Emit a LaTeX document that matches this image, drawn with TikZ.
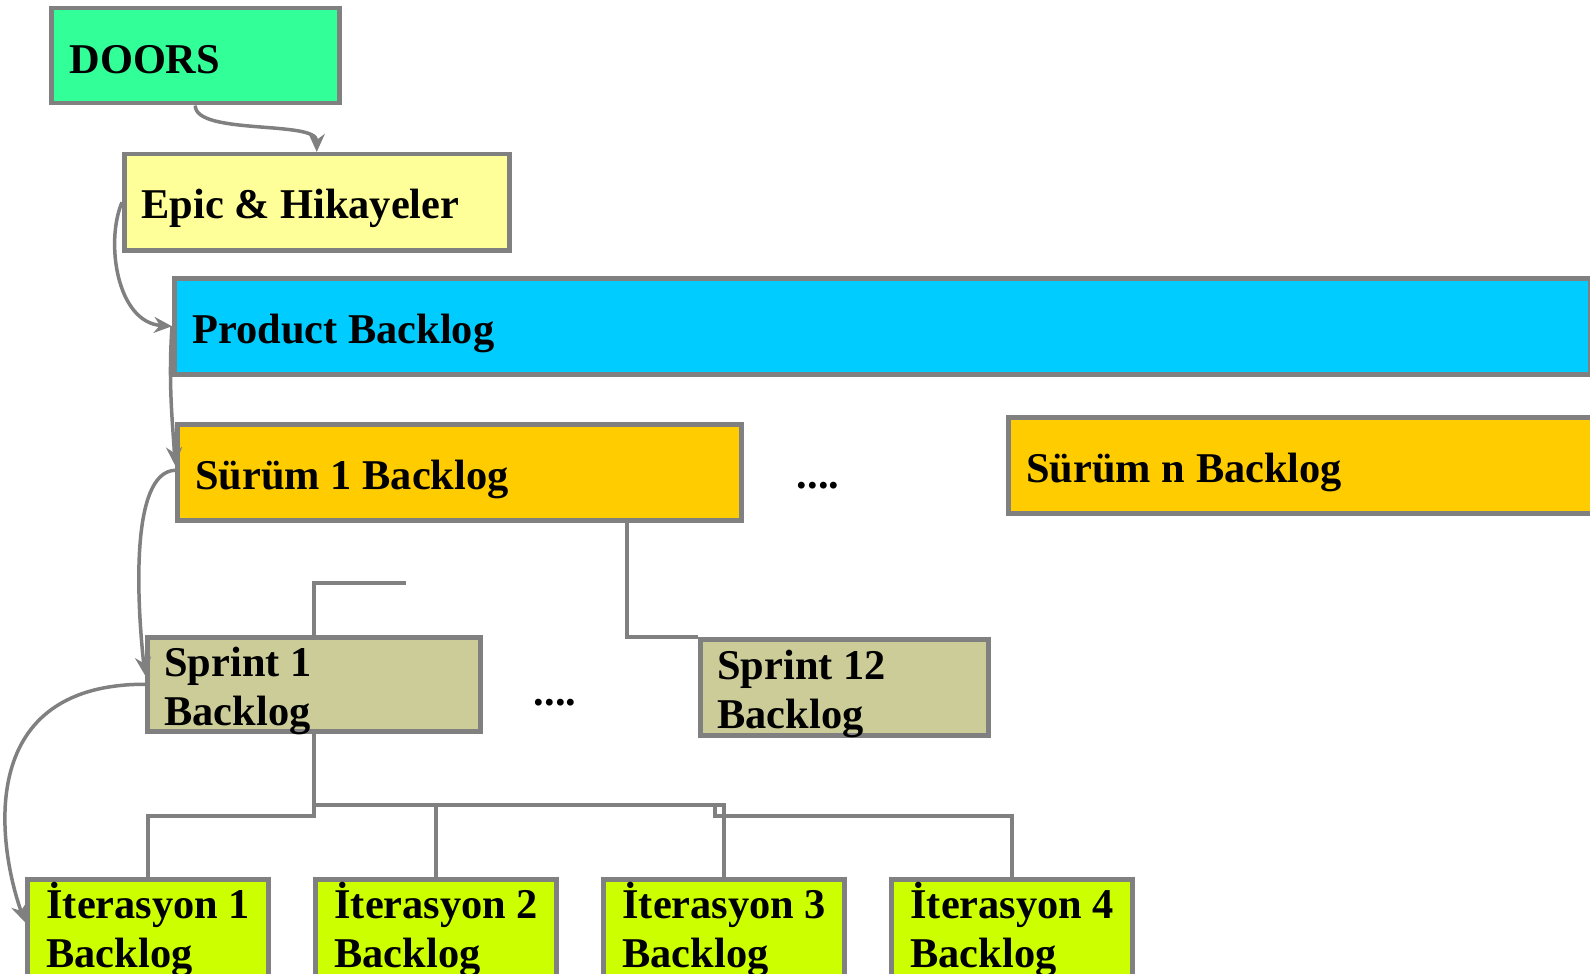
\documentclass[tikz,border=0pt]{standalone}
\usepackage{fontspec}
\setmainfont{Liberation Serif}
\usetikzlibrary{arrows.meta}

\definecolor{doorsgreen}{HTML}{33FF99}
\definecolor{epicyellow}{HTML}{FFFF99}
\definecolor{productblue}{HTML}{00CCFF}
\definecolor{surumorange}{HTML}{FFCC00}
\definecolor{sprintkhaki}{HTML}{CCCC99}
\definecolor{iterlime}{HTML}{CCFF00}
\definecolor{linegray}{HTML}{808080}

\tikzset{
  box/.style={draw=linegray, line width=2.25pt, rectangle, inner sep=0pt, anchor=north west},
  lbl/.style={inner sep=0pt, anchor=base west, align=left,
    font=\fontsize{21.2pt}{24.5pt}\selectfont\bfseries},
  flow/.style={draw=linegray, line width=1.75pt, -{Stealth[length=9pt,width=8pt]}},
  tree/.style={draw=linegray, line width=1.75pt}
}

\begin{document}
\begin{tikzpicture}[x=0.5pt, y=-0.5pt]
\useasboundingbox (0,0) rectangle (1590,974);

% boxes
\node[box, fill=doorsgreen, minimum width=144pt, minimum height=47.5pt] (doors) at (49,6) {};
\node[box, fill=epicyellow, minimum width=192.5pt, minimum height=48pt] (epic) at (122,152) {};
\node[box, fill=productblue, minimum width=708pt, minimum height=48pt] (product) at (172,276) {};
\node[box, fill=surumorange, minimum width=282pt, minimum height=48pt] (surum1) at (175,422) {};
\node[box, fill=surumorange, minimum width=300pt, minimum height=48pt] (surumn) at (1006,415) {};
\node[box, fill=sprintkhaki, minimum width=166.5pt, minimum height=47pt] (sprint1) at (145,635) {};
\node[box, fill=sprintkhaki, minimum width=144pt, minimum height=48pt] (sprint12) at (698,637) {};
\foreach \i/\x in {1/25,2/313,3/601,4/889}
  \node[box, fill=iterlime, minimum width=120.5pt, minimum height=52pt] (iter\i) at (\x,877) {};

% texts (two-line labels sit on their last line)
\node[lbl] (doors-t) at (69,74) {DOORS};
\node[lbl] (epic-t) at (141,218) {Epic \& Hikayeler};
\node[lbl] (product-t) at (192,343) {Product Backlog};
\node[lbl] (surum1-t) at (195,489) {Sürüm 1 Backlog};
\node[lbl] (surumn-t) at (1026,482) {Sürüm n Backlog};
\node[lbl] (sprint1-t) at (164,725) {Sprint 1\\Backlog};
\node[lbl] (sprint12-t) at (717,728) {Sprint 12\\Backlog};
\foreach \i/\x in {1/46,2/334,3/622,4/910}
  \node[lbl] (iter\i-t) at (\x,967) {İterasyon \i\\Backlog};
\node[lbl, anchor=base] (dots1) at (818,488) {....};
\node[lbl, anchor=base] (dots2) at (555,705) {....};

% flow arrows
\draw[flow] (doors.south) .. controls +(0,30) and +(0,-32) .. (epic.north);
\draw[flow] (epic.west) .. controls +(-17,40) and +(-55,-4) .. (product.west);
\draw[flow] (product.west) .. controls +(-4,60) and +(-2,-40) .. ([yshift=3.5pt]surum1.west);
\draw[flow] ([yshift=1pt]surum1.west) .. controls +(-45,2) and +(-8,-73) .. ([yshift=4.5pt]sprint1.west);
\draw[flow] (sprint1.west) .. controls +(-175,0) and +(-25,-70) .. ([yshift=4.5pt]iter1.west);

% tree lines
\coordinate (s1stub) at (406,583);
\coordinate (s1foot) at (406,520);
\coordinate (s12bend) at (627,520);
\coordinate (step) at (715,805);
\coordinate (stepl) at (715,816);
\coordinate (hub) at (sprint1.south |- step);
\coordinate (hubl) at (sprint1.south |- stepl);

\draw[tree] (sprint1.north) |- (s1stub);
\draw[tree] (s1foot) -- (s12bend) |- (sprint12.north west);
\draw[tree] (sprint1.south) -- (hubl) -| (iter1.north);
\draw[tree] (hub) -| (iter2.north);
\draw[tree] (hub) -| (iter3.north);
\draw[tree] (step) -- (stepl) -| (iter4.north);

\end{tikzpicture}
\end{document}
